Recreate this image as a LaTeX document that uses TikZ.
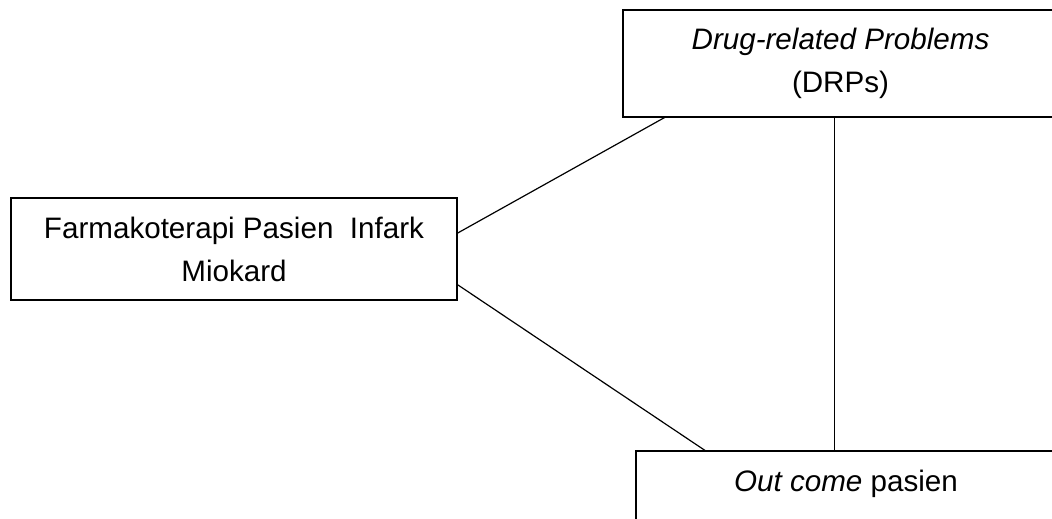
\documentclass[tikz,border=0pt]{standalone}
\usepackage{fontspec}
\setmainfont{Liberation Sans}
\usepackage{tikz}

\tikzset{
  kotak/.style={draw, line width=1.1pt, rectangle, inner sep=0pt, outer sep=0pt, align=center, font=\fontsize{22.2}{32.2}\selectfont},
  garis/.style={line width=0.9pt}
}

\begin{document}
\begin{tikzpicture}[x=0.75pt,y=0.75pt,yscale=-1,xscale=1]
\useasboundingbox (0,0) rectangle (1052,518);

%Shape: Rectangle [farmako]
\node [kotak, minimum width=334.5pt, minimum height=76.5pt] (farmako) at (234,249) {Farmakoterapi Pasien\ \ Infark\\Miokard};
%Shape: Rectangle [drp]
\node [kotak, minimum width=326.25pt, minimum height=80.25pt] (drp) at (840.5,63.5) {\textit{Drug-related Problems}\\(DRPs)};
%Shape: Rectangle [outcome]
\node [kotak, minimum width=315pt, minimum height=76.5pt] (outcome) at (846,502) {\textit{Out come} pasien\\\mbox{}};

%Straight Lines
\draw [garis] (farmako.4.36) -- (drp.197.23);
%Straight Lines
\draw [garis] (farmako.-9.68) -- (outcome.160.37);
%Straight Lines
\draw [garis] (drp.264.13) -- (drp.264.13 |- outcome.north);

\end{tikzpicture}
\end{document}
